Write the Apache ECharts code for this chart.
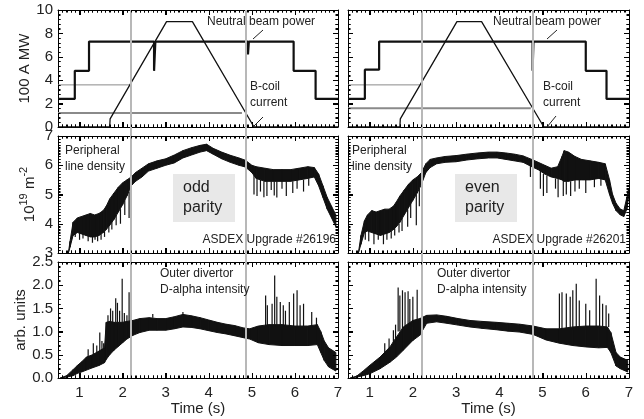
<!DOCTYPE html>
<html>
<head>
<meta charset="utf-8">
<script src="https://cdn.jsdelivr.net/npm/echarts@6/dist/echarts.min.js"></script>
<style>
  html, body { margin: 0; padding: 0; background: #fff; }
  #main { width: 644px; height: 419px; }
</style>
</head>
<body>
<div id="main"></div>
<script>
// ---- data ----
var xTicks = [1, 2, 3, 4, 5, 6, 7];
var xMin = 0.5, xMax = 7;

// neutral beam power (MW), step traces [t, P]
var nbLeft = [[0.5, 2.4], [0.89, 2.4], [0.89, 4.8], [1.22, 4.8], [1.22, 7.3], [2.73, 7.3], [2.73, 4.8], [2.76, 4.8],
  [2.76, 7.3], [4.91, 7.3], [4.91, 6.2], [4.93, 6.2], [4.93, 7.3], [5.97, 7.3], [5.97, 4.8], [6.48, 4.8], [6.48, 2.4], [7.0, 2.4]];
var nbRight = [[0.5, 2.4], [0.89, 2.4], [0.89, 4.9], [1.22, 4.9], [1.22, 7.3], [4.77, 7.3], [4.77, 4.8], [4.79, 4.8],
  [4.79, 7.3], [6.0, 7.3], [6.0, 4.8], [6.48, 4.8], [6.48, 2.4], [7.0, 2.4]];

// B-coil current (100 A)
var coilLeft = [[0.5, 0], [1.70, 0], [1.71, 0.7], [3.02, 9], [3.62, 9], [5.05, 0], [7.0, 0]];
var coilRight = [[0.5, 0], [1.70, 0], [1.71, 0.7], [3.02, 9], [3.59, 9], [5.03, 0], [7.0, 0]];

// grey reference levels
var refLeftHi = [[0.5, 3.6], [2.17, 3.6]];
var refLeftLo = [[0.5, 1.2], [4.77, 1.2]];
var refRightHi = [[0.5, 3.6], [2.16, 3.6]];
var refRightLo = [[0.5, 1.6], [4.73, 1.6]];

// grey time markers (s)
var markLeft = [2.2, 4.87];
var markRight = [2.21, 4.77];

// peripheral line density, envelope [t, low, high] (1e19 m^-2)
var densLeft = [[0.74, 3.0, 3.0], [0.78, 3.2, 3.4], [0.85, 3.6, 4.05], [0.95, 3.7, 4.2], [1.05, 3.65, 4.25], [1.15, 3.6, 4.3],
  [1.25, 3.55, 4.35], [1.35, 3.55, 4.3], [1.45, 3.6, 4.35], [1.55, 3.7, 4.45], [1.62, 3.8, 4.6], [1.70, 3.95, 4.85],
  [1.80, 4.15, 5.05], [1.90, 4.4, 5.25], [2.00, 4.65, 5.4], [2.10, 4.95, 5.5], [2.20, 5.3, 5.6], [2.30, 5.45, 5.75],
  [2.45, 5.6, 5.9], [2.60, 5.8, 6.05], [2.80, 5.9, 6.15], [3.00, 6.0, 6.22], [3.20, 6.08, 6.35], [3.40, 6.25, 6.5],
  [3.60, 6.35, 6.6], [3.80, 6.45, 6.68], [3.95, 6.5, 6.72], [4.10, 6.38, 6.58], [4.30, 6.22, 6.45], [4.50, 6.1, 6.34],
  [4.70, 6.0, 6.25], [4.85, 5.94, 6.17], [5.00, 5.75, 6.0], [5.10, 5.55, 5.95], [5.30, 5.45, 5.9], [5.50, 5.45, 5.85],
  [5.70, 5.45, 5.85], [5.90, 5.45, 5.85], [6.10, 5.5, 5.9], [6.30, 5.55, 5.95], [6.45, 5.6, 5.92], [6.55, 5.3, 5.7],
  [6.65, 4.9, 5.3], [6.75, 4.5, 4.9], [6.85, 4.2, 4.6], [6.95, 3.9, 4.3]];
var densRight = [[0.74, 3.0, 3.0], [0.80, 3.3, 3.6], [0.88, 3.7, 4.1], [0.95, 3.75, 4.3], [1.05, 3.7, 4.45], [1.15, 3.65, 4.4],
  [1.25, 3.6, 4.45], [1.35, 3.65, 4.5], [1.45, 3.7, 4.5], [1.55, 3.8, 4.6], [1.62, 3.9, 4.75], [1.70, 4.05, 4.95],
  [1.80, 4.3, 5.15], [1.90, 4.55, 5.35], [2.00, 4.8, 5.5], [2.10, 5.05, 5.6], [2.20, 5.35, 5.75], [2.30, 5.75, 6.05],
  [2.40, 5.92, 6.2], [2.55, 6.05, 6.25], [2.75, 6.1, 6.3], [3.00, 6.12, 6.33], [3.25, 6.18, 6.38], [3.50, 6.22, 6.42],
  [3.75, 6.25, 6.45], [3.95, 6.25, 6.45], [4.15, 6.2, 6.42], [4.35, 6.15, 6.38], [4.55, 6.1, 6.32], [4.75, 5.95, 6.2],
  [4.90, 5.85, 6.1], [5.05, 5.7, 6.0], [5.20, 5.6, 5.9], [5.35, 5.55, 5.95], [5.45, 5.5, 6.3], [5.50, 5.45, 6.5],
  [5.60, 5.45, 6.45], [5.75, 5.5, 6.3], [5.90, 5.5, 6.2], [6.10, 5.5, 6.15], [6.30, 5.55, 6.1], [6.45, 5.5, 6.05],
  [6.55, 5.0, 5.5], [6.62, 4.7, 5.0], [6.70, 4.45, 4.7], [6.80, 4.3, 4.5], [6.88, 4.25, 4.45], [6.95, 4.5, 4.9], [6.99, 4.9, 5.2]];

// density drop-outs [t, from, to]
var densSpikesLeft = [[0.9, 3.8, 3.55], [1.0, 3.7, 3.45], [1.08, 3.65, 3.5], [1.2, 3.6, 3.4], [1.3, 3.55, 3.35],
  [1.36, 3.55, 3.45], [1.42, 3.6, 3.4], [1.5, 3.65, 3.45], [1.58, 3.75, 3.55],
  [1.68, 4.0, 3.7], [1.75, 4.1, 3.8], [1.85, 4.3, 3.95], [1.95, 4.5, 4.0], [2.05, 4.8, 4.3], [2.15, 5.1, 4.2],
  [5.05, 5.7, 5.0], [5.12, 5.6, 4.95], [5.2, 5.5, 5.1], [5.28, 5.45, 4.91], [5.35, 5.45, 4.95], [5.45, 5.45, 5.15],
  [5.52, 5.45, 4.97], [5.58, 5.45, 4.9], [5.7, 5.45, 5.2], [5.8, 5.45, 4.95], [5.95, 5.45, 5.05], [6.05, 5.5, 5.2],
  [6.2, 5.5, 5.1], [6.32, 5.55, 5.3]];
var densSpikesRight = [[0.9, 3.8, 3.45], [0.98, 3.8, 3.4], [1.1, 3.7, 3.3], [1.2, 3.65, 3.45], [1.32, 3.65, 3.3],
  [1.4, 3.7, 3.45], [1.5, 3.75, 3.5], [1.58, 3.85, 3.6],
  [1.68, 4.0, 3.7], [1.75, 4.2, 3.75], [1.88, 4.5, 3.9], [1.95, 4.7, 4.2], [2.08, 5.0, 3.95], [2.15, 5.2, 4.6],
  [4.72, 6.0, 5.6], [4.95, 5.8, 5.2], [5.02, 5.7, 4.95], [5.1, 5.65, 5.05], [5.3, 5.55, 5.2], [5.36, 5.55, 4.91],
  [5.48, 5.5, 4.95], [5.55, 5.45, 5.0], [5.65, 5.45, 4.95], [5.75, 5.5, 5.1], [5.85, 5.5, 5.2], [6.0, 5.5, 5.05],
  [6.2, 5.55, 5.25], [6.35, 5.55, 5.3]];

// outer divertor D-alpha, envelope [t, low, high] (arb. units)
var daLeft = [[0.55, 0.0, 0.0], [0.70, 0.02, 0.05], [0.85, 0.05, 0.18], [0.95, 0.1, 0.27], [1.05, 0.13, 0.35],
  [1.16, 0.17, 0.45], [1.30, 0.22, 0.5], [1.45, 0.27, 0.58], [1.58, 0.33, 0.65], [1.62, 0.4, 1.2], [1.70, 0.5, 1.22],
  [1.80, 0.6, 1.2], [1.90, 0.68, 1.2], [2.00, 0.76, 1.2], [2.10, 0.84, 1.22], [2.24, 0.92, 1.24], [2.40, 0.98, 1.28],
  [2.62, 1.03, 1.3], [2.80, 1.03, 1.28], [3.00, 1.03, 1.28], [3.20, 1.06, 1.32], [3.40, 1.1, 1.37], [3.60, 1.09, 1.34],
  [3.80, 1.06, 1.3], [4.00, 1.02, 1.25], [4.20, 0.98, 1.2], [4.40, 0.95, 1.16], [4.60, 0.91, 1.13], [4.80, 0.87, 1.08],
  [4.95, 0.84, 1.06], [5.15, 0.76, 1.12], [5.40, 0.72, 1.15], [5.70, 0.7, 1.15], [6.00, 0.7, 1.12], [6.30, 0.7, 1.12],
  [6.52, 0.72, 1.15], [6.60, 0.55, 1.0], [6.68, 0.38, 0.8], [6.78, 0.24, 0.65], [6.95, 0.15, 0.55]];
var daRight = [[0.55, 0.0, 0.0], [0.70, 0.02, 0.04], [0.85, 0.05, 0.15], [1.00, 0.09, 0.27], [1.24, 0.2, 0.45],
  [1.47, 0.34, 0.67], [1.62, 0.45, 0.88], [1.78, 0.6, 1.1], [2.00, 0.81, 1.24], [2.16, 0.92, 1.28], [2.32, 1.18, 1.35],
  [2.55, 1.21, 1.36], [2.78, 1.18, 1.33], [3.05, 1.14, 1.28], [3.32, 1.1, 1.24], [3.60, 1.07, 1.22], [3.93, 1.04, 1.2],
  [4.20, 1.01, 1.18], [4.47, 0.99, 1.16], [4.78, 0.94, 1.12], [5.08, 0.82, 1.06], [5.39, 0.75, 1.06], [5.70, 0.7, 1.1],
  [6.00, 0.67, 1.12], [6.30, 0.65, 1.12], [6.50, 0.66, 1.1], [6.58, 0.55, 0.98], [6.70, 0.26, 0.55], [6.80, 0.2, 0.45],
  [6.97, 0.13, 0.38]];

// ELM bursts [t, from, to]
var daSpikesLeft = [[1.2, 0.45, 0.62], [1.32, 0.5, 0.75], [1.4, 0.55, 0.7], [1.47, 0.58, 0.98], [1.52, 0.6, 0.8],
  [1.56, 0.62, 0.75], [1.66, 1.2, 1.35], [1.72, 1.2, 1.5], [1.77, 1.2, 1.45], [1.84, 1.2, 1.72], [1.88, 1.2, 1.62],
  [1.93, 1.2, 1.45], [1.99, 1.2, 2.14], [2.04, 1.2, 1.4], [2.1, 1.2, 1.35], [2.15, 1.2, 1.85], [2.7, 1.3, 1.38],
  [3.4, 1.37, 1.42], [5.32, 1.1, 1.78], [5.36, 1.1, 1.57], [5.47, 1.1, 1.6], [5.53, 1.1, 2.21], [5.58, 1.1, 1.75],
  [5.66, 1.1, 1.64], [5.73, 1.1, 1.57], [5.78, 1.1, 1.45], [5.87, 1.1, 1.64], [5.97, 1.1, 1.82], [6.05, 1.1, 1.89],
  [6.12, 1.1, 1.57], [6.2, 1.1, 1.6], [6.39, 1.1, 1.42], [6.5, 1.1, 1.3]];
var daSpikesRight = [[1.35, 0.55, 0.75], [1.45, 0.62, 0.85], [1.55, 0.7, 1.03], [1.6, 0.8, 1.15], [1.66, 1.0, 1.95],
  [1.7, 1.0, 1.78], [1.76, 1.05, 1.89], [1.82, 1.1, 1.85], [1.89, 1.15, 1.87], [1.93, 1.15, 1.7], [2.0, 1.2, 1.75],
  [2.1, 1.25, 1.9], [5.39, 1.06, 1.82], [5.45, 1.06, 1.85], [5.55, 1.08, 1.82], [5.64, 1.08, 1.75], [5.7, 1.1, 1.89],
  [5.78, 1.1, 2.03], [5.85, 1.1, 1.67], [6.0, 1.12, 1.6], [6.09, 1.12, 1.46], [6.24, 1.12, 2.14], [6.32, 1.12, 1.78],
  [6.39, 1.12, 1.6], [6.47, 1.1, 1.57], [6.53, 1.1, 1.39]];

// ---- chart ----
var FONT = 'Liberation Sans, Arial, sans-serif';
var TXT = '#222';

var grids = [
  { left: 58, top: 10, width: 280, height: 117 },
  { left: 348, top: 10, width: 281, height: 117 },
  { left: 58, top: 136, width: 280, height: 117 },
  { left: 348, top: 136, width: 281, height: 117 },
  { left: 58, top: 262, width: 280, height: 116 },
  { left: 348, top: 262, width: 281, height: 116 },
  // full-height overlays used for the grey time markers
  { left: 58, top: 10, width: 280, height: 368 },
  { left: 348, top: 10, width: 281, height: 368 }
];
// [min, max, interval, minor divisions]
var yRange = [[0, 10, 2, 5], [0, 10, 2, 5], [3, 7, 1, 10], [3, 7, 1, 10], [0, 2.5, 0.5, 5], [0, 2.5, 0.5, 5]];

function frameX(g, pos, extra) {
  return Object.assign({
    type: 'value', gridIndex: g, position: pos, min: xMin, max: xMax, splitNumber: 6, splitLine: { show: false },
    axisLine: { onZero: false, lineStyle: { color: '#000' } },
    axisTick: { show: true, inside: true, length: 5, lineStyle: { color: '#000', width: 1 } },
    minorTick: { show: true, splitNumber: 10, length: 2.5, lineStyle: { color: '#000', width: 1 } },
    axisLabel: { show: false }
  }, extra);
}
function frameY(g, pos, extra) {
  var r = yRange[g];
  return Object.assign({
    type: 'value', gridIndex: g, position: pos, min: r[0], max: r[1], interval: r[2], splitLine: { show: false },
    axisLine: { show: true, onZero: false, lineStyle: { color: '#000' } },
    axisTick: { show: true, inside: true, length: 5, lineStyle: { color: '#000', width: 1 } },
    minorTick: { show: true, splitNumber: r[3], length: 2.5, lineStyle: { color: '#000', width: 1 } },
    axisLabel: { show: false }
  }, extra);
}

var timeName = {
  axisLabel: { show: true, customValues: xTicks, fontSize: 15, fontFamily: FONT, color: TXT, margin: 7 },
  name: 'Time (s)', nameLocation: 'middle', nameGap: 22,
  nameTextStyle: { fontSize: 15, fontFamily: FONT, color: TXT }
};
function yLabels(fmt) {
  return { show: true, fontSize: 15, fontFamily: FONT, color: TXT, margin: 5, formatter: fmt };
}

var xAxis = [], yAxis = [];
for (var g = 0; g < 6; g++) {
  xAxis.push(frameX(g, 'bottom', g >= 4 ? timeName : {}));
  xAxis.push(frameX(g, 'top', {}));
  yAxis.push(frameY(g, 'left', {}));
  yAxis.push(frameY(g, 'right', {}));
}
Object.assign(yAxis[0], {
  axisLabel: yLabels('{value}'), name: '100 A MW', nameLocation: 'middle', nameRotate: 90, nameGap: 15,
  nameTextStyle: { fontSize: 15, fontFamily: FONT, color: TXT }
});
Object.assign(yAxis[4], {
  axisLabel: yLabels('{value}'), name: '{n|10}{s|19}{n| m}{s|-2}', nameLocation: 'middle', nameRotate: 90, nameGap: 21,
  nameTextStyle: {
    fontSize: 15, fontFamily: FONT, color: TXT,
    rich: {
      n: { fontSize: 15, fontFamily: FONT, color: TXT, lineHeight: 19, verticalAlign: 'bottom' },
      s: { fontSize: 11, fontFamily: FONT, color: TXT, lineHeight: 19, verticalAlign: 'top' }
    }
  }
});
Object.assign(yAxis[8], {
  axisLabel: yLabels(function (v) { return v.toFixed(1); }), name: 'arb. units', nameLocation: 'middle',
  nameRotate: 90, nameGap: 26, nameTextStyle: { fontSize: 15, fontFamily: FONT, color: TXT }
});
// hidden axes on the overlay grids
[6, 7].forEach(function (k) {
  xAxis.push({ type: 'value', gridIndex: k, min: xMin, max: xMax, show: false });
  yAxis.push({ type: 'value', gridIndex: k, min: 0, max: 1, show: false });
});

function lineSeries(data, g, color, width, z) {
  return {
    type: 'line', xAxisIndex: 2 * g, yAxisIndex: 2 * g, data: data, symbol: 'none', silent: true,
    lineStyle: { color: color, width: width }, z: z || 3
  };
}

function bandSeries(rows, g) {
  return {
    type: 'custom', xAxisIndex: 2 * g, yAxisIndex: 2 * g, data: rows, encode: { x: 0, y: [1, 2] }, silent: true, z: 4,
    renderItem: function (params, api) {
      var i = params.dataIndex;
      if (i === 0) return null;
      var a = rows[i - 1], b = rows[i];
      return {
        type: 'polygon',
        shape: { points: [api.coord([a[0], a[1]]), api.coord([b[0], b[1]]), api.coord([b[0], b[2]]), api.coord([a[0], a[2]])] },
        style: { fill: '#111', stroke: '#111', lineWidth: 1 }
      };
    }
  };
}

function spikeSeries(rows, g) {
  return {
    type: 'custom', xAxisIndex: 2 * g, yAxisIndex: 2 * g, data: rows, encode: { x: 0, y: [1, 2] }, silent: true, z: 4,
    renderItem: function (params, api) {
      var s = api.coord([api.value(0), api.value(1)]);
      var e = api.coord([api.value(0), api.value(2)]);
      return { type: 'line', shape: { x1: s[0], y1: s[1], x2: e[0], y2: e[1] }, style: { stroke: '#111', lineWidth: 1.2 } };
    }
  };
}

// inward major/minor ticks on all four sides of a panel, placed through the panel's own scales
function frameTicks(g) {
  var r = yRange[g];
  return {
    type: 'custom', xAxisIndex: 2 * g, yAxisIndex: 2 * g, data: [[xMin, r[0]]], silent: true, z: 6, clip: false,
    renderItem: function (params, api) {
      var kids = [];
      var bl = api.coord([xMin, r[0]]), tr = api.coord([xMax, r[1]]);
      function seg(x1, y1, x2, y2) {
        kids.push({ type: 'line', shape: { x1: x1, y1: y1, x2: x2, y2: y2 }, style: { stroke: '#000', lineWidth: 1 } });
      }
      var stepX = (xTicks[1] - xTicks[0]) / 10;
      var nX = Math.round((xMax - xMin) / stepX);
      for (var k = 0; k <= nX; k++) {
        var v = xMin + k * stepX;
        var x = Math.round(api.coord([v, r[0]])[0]) + 0.5;
        var major = Math.abs(v - Math.round(v)) < 1e-6;
        var len = major ? 5 : 2.5;
        seg(x, bl[1], x, bl[1] - len);
        seg(x, tr[1], x, tr[1] + len);
      }
      var stepY = r[2] / r[3];
      var nY = Math.round((r[1] - r[0]) / stepY);
      for (var j = 0; j <= nY; j++) {
        var w = r[0] + j * stepY;
        var y = Math.round(api.coord([xMin, w])[1]) + 0.5;
        var lenY = (j % r[3] === 0) ? 5 : 2.5;
        seg(bl[0], y, bl[0] + lenY, y);
        seg(tr[0], y, tr[0] - lenY, y);
      }
      return { type: 'group', children: kids };
    }
  };
}

function markerSeries(times, axisIdx) {
  return {
    type: 'line', xAxisIndex: axisIdx, yAxisIndex: axisIdx, data: [], silent: true, z: 1,
    markLine: {
      symbol: 'none', silent: true, label: { show: false },
      lineStyle: { color: '#b8b8b8', width: 2, type: 'solid' },
      data: times.map(function (t) { return { xAxis: t }; })
    }
  };
}

var series = [
  markerSeries(markLeft, 12),
  markerSeries(markRight, 13),
  lineSeries(refLeftHi, 0, '#8a8a8a', 1, 2),
  lineSeries(refLeftLo, 0, '#8a8a8a', 2, 2),
  lineSeries(refRightHi, 1, '#8a8a8a', 1, 2),
  lineSeries(refRightLo, 1, '#8a8a8a', 2, 2),
  lineSeries(coilLeft, 0, '#111', 1.3),
  lineSeries(coilRight, 1, '#111', 1.3),
  lineSeries(nbLeft, 0, '#111', 2.2),
  lineSeries(nbRight, 1, '#111', 2.2),
  bandSeries(densLeft, 2), spikeSeries(densSpikesLeft, 2),
  bandSeries(densRight, 3), spikeSeries(densSpikesRight, 3),
  bandSeries(daLeft, 4), spikeSeries(daSpikesLeft, 4),
  bandSeries(daRight, 5), spikeSeries(daSpikesRight, 5)
];
for (var p = 0; p < 6; p++) series.push(frameTicks(p));

function txt(x, y, text, size, lh) {
  return {
    type: 'text', x: x, y: y, z: 10, silent: true,
    style: { text: text, fontSize: size || 12, fontFamily: FONT, fill: TXT, lineHeight: lh || 16, textVerticalAlign: 'top' }
  };
}
function leader(x1, y1, x2, y2) {
  return { type: 'line', z: 10, silent: true, shape: { x1: x1, y1: y1, x2: x2, y2: y2 }, style: { stroke: TXT, lineWidth: 1 } };
}
function box(x, y, w, h) {
  return { type: 'rect', z: 0, silent: true, shape: { x: x, y: y, width: w, height: h }, style: { fill: '#e8e8e8' } };
}

var graphic = [
  txt(207, 14, 'Neutral beam power'), leader(253, 39, 263, 30),
  txt(250, 79, 'B-coil\ncurrent'), leader(253, 127, 263, 117),
  txt(493, 14, 'Neutral beam power'), leader(547, 39, 557, 30),
  txt(543, 79, 'B-coil\ncurrent'), leader(547, 127, 556, 116),
  txt(65, 143, 'Peripheral\nline density'),
  txt(352, 143, 'Peripheral\nline density'),
  box(173, 174, 62, 48), txt(183, 178, 'odd\nparity', 16, 20),
  box(455, 174, 62, 48), txt(465, 178, 'even\nparity', 16, 20),
  {
    type: 'text', x: 336, y: 240, z: 10, silent: true,
    style: { text: 'ASDEX Upgrade #26196', fontSize: 12, fontFamily: FONT, fill: TXT, textAlign: 'right', textVerticalAlign: 'middle' }
  },
  {
    type: 'text', x: 626, y: 240, z: 10, silent: true,
    style: { text: 'ASDEX Upgrade #26201', fontSize: 12, fontFamily: FONT, fill: TXT, textAlign: 'right', textVerticalAlign: 'middle' }
  },
  txt(160, 266, 'Outer divertor\nD-alpha intensity'),
  txt(437, 266, 'Outer divertor\nD-alpha intensity')
];

var chart = echarts.init(document.getElementById('main'));
chart.setOption({
  animation: false,
  backgroundColor: '#fff',
  grid: grids,
  xAxis: xAxis,
  yAxis: yAxis,
  series: series,
  graphic: graphic
});
</script>
</body>
</html>
